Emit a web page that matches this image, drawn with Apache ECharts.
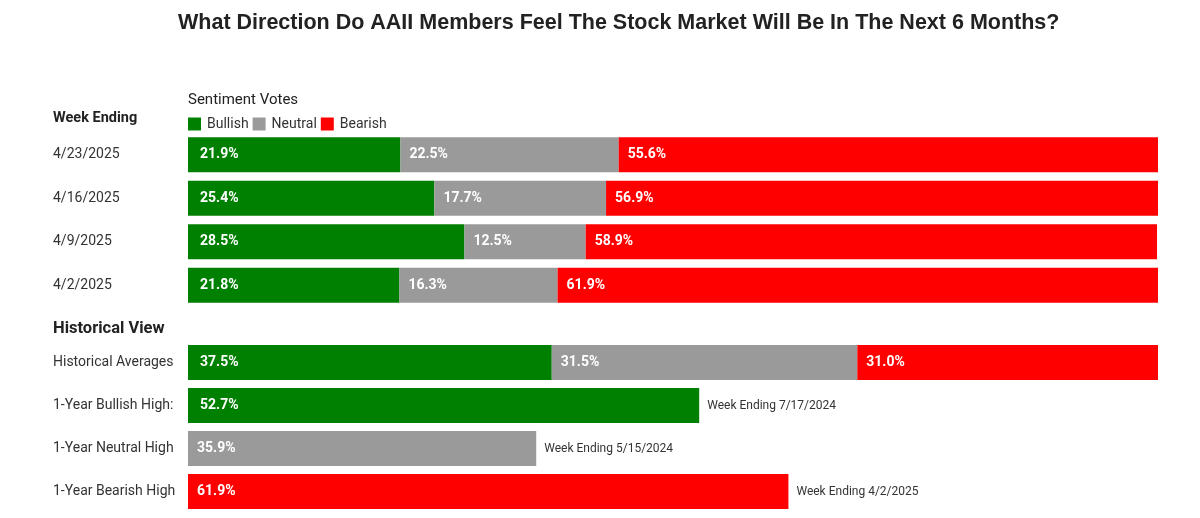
<!DOCTYPE html>
<html><head><meta charset="utf-8">
<script src="https://cdn.jsdelivr.net/npm/echarts@6/dist/echarts.min.js"></script>
<style>html,body{margin:0;padding:0;background:#fff}#c{width:1200px;height:518px}</style>
</head><body><div id="c"></div>
<script>
const weekCats = ['4/23/2025', '4/16/2025', '4/9/2025', '4/2/2025'];
const weekBull = [21.9, 25.4, 28.5, 21.8];
const weekNeut = [22.5, 17.7, 12.5, 16.3];
const weekBear = [55.6, 56.9, 58.9, 61.9];
const histCats = ['Historical Averages', '1-Year Bullish High:', '1-Year Neutral High', '1-Year Bearish High'];
const histAvg = [37.5, 31.5, 31.0];
const highVals = [52.7, 35.9, 61.9];
const highNotes = ['Week Ending 7/17/2024', 'Week Ending 5/15/2024', 'Week Ending 4/2/2025'];
const seriesNames = ['Bullish', 'Neutral', 'Bearish'];

const FONT = 'Roboto';
const COLORS = { Bullish: '#008000', Neutral: '#9a9a9a', Bearish: '#ff0000' };
const BAR_W = 35;

function valLabel(dist) {
  return { show: true, position: 'insideLeft', distance: dist, color: '#fff', fontWeight: 'bold',
    fontSize: 14, fontFamily: FONT, formatter: p => Number(p.value).toFixed(1) + '%' };
}
function catAxis(idx, cats) {
  return { type: 'category', gridIndex: idx, data: cats, inverse: true,
    axisLine: { show: false }, axisTick: { show: false }, splitLine: { show: false },
    axisLabel: { align: 'left', margin: 135, fontSize: 14, color: '#333', fontFamily: FONT, padding: [6, 0, 0, 0] } };
}
function valAxis(idx) {
  return { type: 'value', gridIndex: idx, min: 0, max: 100, show: false, splitLine: { show: false } };
}

const weekData = [weekBull, weekNeut, weekBear];
const histData = [
  [histAvg[0], highVals[0], '-', '-'],
  [histAvg[1], '-', highVals[1], '-'],
  [histAvg[2], '-', '-', highVals[2]]
];

const series = [];
seriesNames.forEach((n, i) => {
  series.push({ name: n, type: 'bar', stack: 'w', xAxisIndex: 0, yAxisIndex: 0, barWidth: BAR_W,
    itemStyle: { color: COLORS[n] }, label: valLabel(i === 0 ? 12 : 9), data: weekData[i], silent: true });
});
seriesNames.forEach((n, i) => {
  series.push({ name: n, type: 'bar', stack: 'h', xAxisIndex: 1, yAxisIndex: 1, barWidth: BAR_W, barGap: '-100%',
    itemStyle: { color: COLORS[n] }, label: valLabel(i === 0 ? 12 : 9), data: histData[i], silent: true });
});
series.push({ name: 'note', type: 'bar', xAxisIndex: 1, yAxisIndex: 1, barWidth: BAR_W, barGap: '-100%',
  itemStyle: { color: 'rgba(0,0,0,0)' }, silent: true, z: 1,
  label: { show: true, position: 'right', distance: 8, color: '#333', fontSize: 12, fontFamily: FONT,
    formatter: p => highNotes[p.dataIndex - 1] },
  data: ['-'].concat(highVals) });

const chart = echarts.init(document.getElementById('c'));
chart.setOption({
  animation: false,
  title: [
    { text: 'What Direction Do AAII Members Feel The Stock Market Will Be In The Next 6 Months?',
      left: 178, top: 12, padding: 0, textStyle: { fontFamily: 'Liberation Sans', fontWeight: 'bold', fontSize: 21.5, color: '#222' } },
    { text: 'Sentiment Votes', left: 188, top: 93, padding: 0, textStyle: { fontFamily: FONT, fontWeight: 'normal', fontSize: 15, color: '#222' } },
    { text: 'Week Ending', left: 53, top: 111, padding: 0, textStyle: { fontFamily: FONT, fontWeight: 'bold', fontSize: 14.5, color: '#222' } },
    { text: 'Historical View', left: 53, top: 320, padding: 0, textStyle: { fontFamily: FONT, fontWeight: 'bold', fontSize: 16.5, color: '#222' } }
  ],
  legend: { data: seriesNames, left: 188, top: 117, icon: 'rect', itemWidth: 13, itemHeight: 13, itemGap: 4,
    padding: 0, textStyle: { fontFamily: FONT, fontSize: 14, color: '#333', padding: [0, 0, 0, 1] }, selectedMode: false },
  grid: [
    { left: 188, right: 42, top: 133, height: 174 },
    { left: 188, right: 42, top: 341, height: 172 }
  ],
  xAxis: [valAxis(0), valAxis(1)],
  yAxis: [catAxis(0, weekCats), catAxis(1, histCats)],
  series: series
});
</script></body></html>
